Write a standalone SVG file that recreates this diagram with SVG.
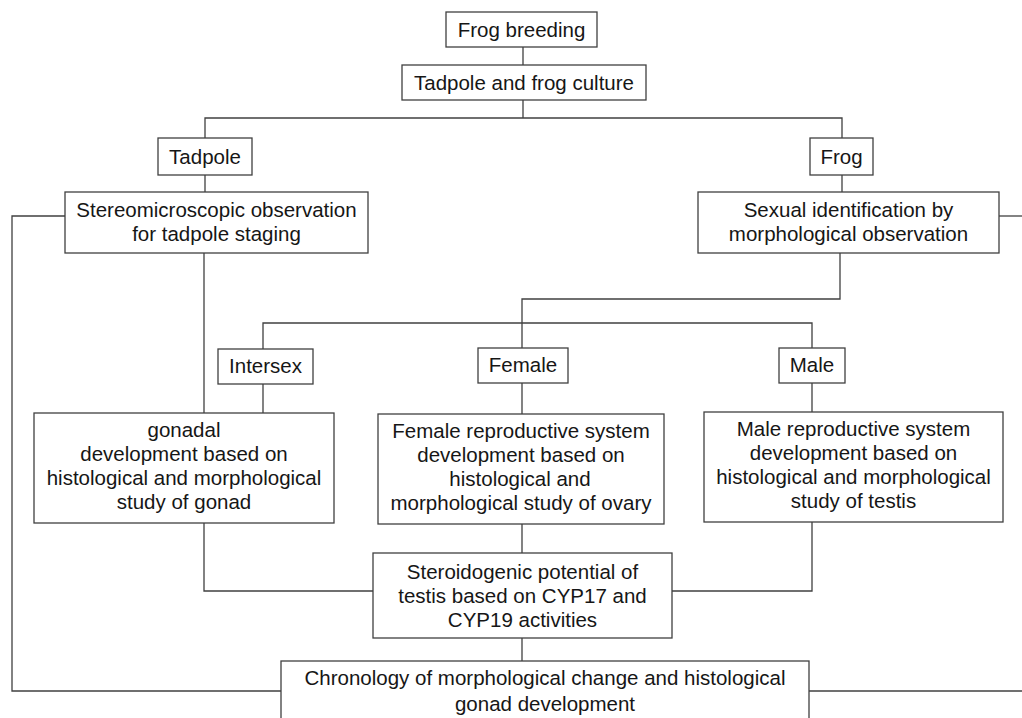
<svg xmlns="http://www.w3.org/2000/svg" width="1022" height="718" viewBox="0 0 1022 718">
<style>
.box{fill:#fff;stroke:#404040;stroke-width:1.3}
.c{fill:none;stroke:#404040;stroke-width:1.3}
text{font-family:"Liberation Sans",Arial,sans-serif;font-size:20.5px;fill:#161616;text-anchor:middle}
</style>
<rect width="1022" height="718" fill="#fff"/>
<g id="connectors" class="c">
<path d="M523,47V65"/>
<path d="M523,100V118"/>
<path d="M205,138V118H842V138"/>
<path d="M205,175V192"/>
<path d="M842,175V192"/>
<path d="M204,253V413"/>
<path d="M65,216H12V691H281"/>
<path d="M999,216H1024"/>
<path d="M809,691H1024"/>
<path d="M840,253V299H522V348"/>
<path d="M263,349V323H812V348"/>
<path d="M522,383V414"/>
<path d="M263,384V413"/>
<path d="M812,383V412"/>
<path d="M204,523V591H373"/>
<path d="M812,522V591H672"/>
<path d="M522,524V553"/>
<path d="M522,638V661"/>
</g>
<g id="frog-breeding"><rect class="box" x="446" y="12" width="151" height="35"/><text x="521.5" y="36.5">Frog breeding</text></g>
<g id="culture"><rect class="box" x="402" y="65" width="244" height="35"/><text x="524" y="89.5">Tadpole and frog culture</text></g>
<g id="tadpole"><rect class="box" x="158" y="138" width="94" height="37"/><text x="205" y="163.5">Tadpole</text></g>
<g id="frog"><rect class="box" x="810" y="138" width="63" height="37"/><text x="841.5" y="163.5">Frog</text></g>
<g id="stereo"><rect class="box" x="65" y="192" width="303" height="61"/><text x="216.5" y="217">Stereomicroscopic observation</text><text x="216.5" y="241">for tadpole staging</text></g>
<g id="sexual"><rect class="box" x="698" y="192" width="301" height="61"/><text x="848.5" y="217">Sexual identification by</text><text x="848.5" y="241">morphological observation</text></g>
<g id="intersex"><rect class="box" x="218" y="349" width="95" height="35"/><text x="265.5" y="373">Intersex</text></g>
<g id="female"><rect class="box" x="478" y="348" width="90" height="35"/><text x="523" y="372">Female</text></g>
<g id="male"><rect class="box" x="779" y="348" width="66" height="35"/><text x="812" y="372">Male</text></g>
<g id="gonadal"><rect class="box" x="34" y="413" width="300" height="110"/><text x="184" y="437">gonadal</text><text x="184" y="461">development based on</text><text x="184" y="485">histological and morphological</text><text x="184" y="509">study of gonad</text></g>
<g id="female-repro"><rect class="box" x="378" y="414" width="286" height="110"/><text x="521" y="438">Female reproductive system</text><text x="521" y="462">development based on</text><text x="520" y="486">histological and</text><text x="521" y="510">morphological study of ovary</text></g>
<g id="male-repro"><rect class="box" x="704" y="412" width="299" height="110"/><text x="853.5" y="436">Male reproductive system</text><text x="853.5" y="460">development based on</text><text x="853.5" y="484">histological and morphological</text><text x="853.5" y="508">study of testis</text></g>
<g id="steroid"><rect class="box" x="373" y="553" width="299" height="85"/><text x="522.5" y="578.5">Steroidogenic potential of</text><text x="522.5" y="602.5">testis based on CYP17 and</text><text x="522.5" y="626.5">CYP19 activities</text></g>
<g id="chronology"><rect class="box" x="281" y="661" width="528" height="80"/><text x="545" y="685">Chronology of morphological change and histological</text><text x="545" y="711">gonad development</text></g>
</svg>
